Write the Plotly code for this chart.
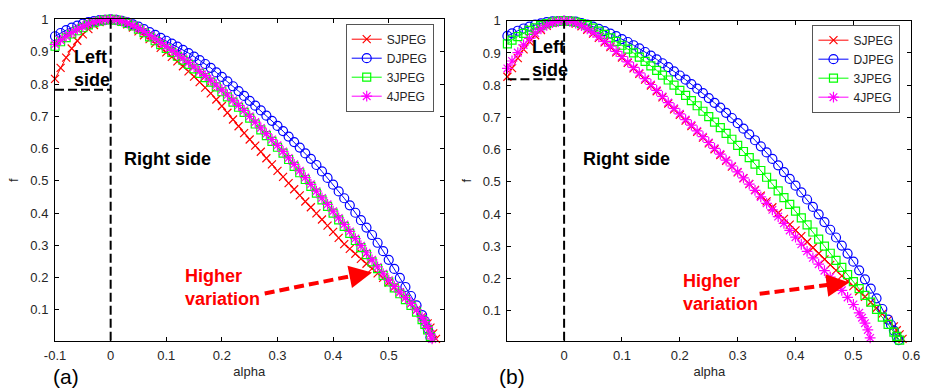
import plotly.graph_objects as go

# ---------------- data ----------------
series_names = ["SJPEG", "DJPEG", "3JPEG", "4JPEG"]
series_colors = ["#ff0000", "#0000ff", "#00ff00", "#ff00ff"]
series_symbols = ["x-thin-open", "circle-open", "square-open", "asterisk-open"]
marker_sizes = [8, 9, 8, 9]

# alpha sampling shared by most spectra (panel a: -0.10 .. 0.56)
alpha_grid_a = [-0.10, -0.09, -0.08, -0.07, -0.06, -0.05, -0.04, -0.03, -0.02, -0.01,
                0.00,
                0.01, 0.02, 0.03, 0.04, 0.05, 0.06, 0.07, 0.08, 0.09, 0.10,
                0.11, 0.12, 0.13, 0.14, 0.15, 0.16, 0.17, 0.18, 0.19, 0.20,
                0.21, 0.22, 0.23, 0.24, 0.25, 0.26, 0.27, 0.28, 0.29, 0.30,
                0.31, 0.32, 0.33, 0.34, 0.35, 0.36, 0.37, 0.38, 0.39, 0.40,
                0.41, 0.42, 0.43, 0.44, 0.45, 0.46, 0.47, 0.48, 0.49, 0.50,
                0.51, 0.52, 0.53, 0.54, 0.55, 0.56]
# panel b: -0.098 .. 0.56
alpha_grid_b = [-0.098, -0.09, -0.08, -0.07, -0.06, -0.05, -0.04, -0.03, -0.02, -0.01,
                0.00,
                0.01, 0.02, 0.03, 0.04, 0.05, 0.06, 0.07, 0.08, 0.09, 0.10,
                0.11, 0.12, 0.13, 0.14, 0.15, 0.16, 0.17, 0.18, 0.19, 0.20,
                0.21, 0.22, 0.23, 0.24, 0.25, 0.26, 0.27, 0.28, 0.29, 0.30,
                0.31, 0.32, 0.33, 0.34, 0.35, 0.36, 0.37, 0.38, 0.39, 0.40,
                0.41, 0.42, 0.43, 0.44, 0.45, 0.46, 0.47, 0.48, 0.49, 0.50,
                0.51, 0.52, 0.53, 0.54, 0.55, 0.56]

# ---- panel (a) ----
alpha_a_sjpeg = alpha_grid_a + [0.57, 0.575, 0.58, 0.585]
f_a_sjpeg = [0.816, 0.850, 0.882, 0.910, 0.934, 0.954, 0.970, 0.983, 0.992, 0.998,
             1.000,
             0.998, 0.993, 0.985, 0.975, 0.963, 0.951, 0.939, 0.926, 0.912, 0.898,
             0.884, 0.870, 0.855, 0.839, 0.823, 0.806, 0.789, 0.771, 0.752, 0.732,
             0.711, 0.690, 0.669, 0.648, 0.628, 0.609, 0.590, 0.570, 0.551, 0.531,
             0.512, 0.493, 0.474, 0.455, 0.436, 0.418, 0.399, 0.380, 0.361, 0.342,
             0.323, 0.304, 0.289, 0.274, 0.258, 0.243, 0.228, 0.213, 0.199, 0.185,
             0.171, 0.155, 0.138, 0.120, 0.100, 0.079,
             0.058, 0.045, 0.027, 0.010]

alpha_a_djpeg = alpha_grid_a + [0.565, 0.57, 0.575]
f_a_djpeg = [0.948, 0.958, 0.967, 0.975, 0.981, 0.987, 0.992, 0.995, 0.998, 0.999,
             1.000,
             0.999, 0.996, 0.991, 0.985, 0.978, 0.970, 0.961, 0.952, 0.943, 0.934,
             0.925, 0.916, 0.906, 0.896, 0.885, 0.874, 0.862, 0.850, 0.836, 0.822,
             0.808, 0.793, 0.778, 0.763, 0.748, 0.733, 0.718, 0.702, 0.686, 0.670,
             0.654, 0.637, 0.620, 0.603, 0.585, 0.568, 0.549, 0.529, 0.509, 0.488,
             0.467, 0.446, 0.424, 0.401, 0.378, 0.355, 0.332, 0.308, 0.282, 0.255,
             0.227, 0.199, 0.171, 0.143, 0.114, 0.084,
             0.065, 0.042, 0.015]

alpha_a_3jpeg = alpha_grid_a + [0.565, 0.57, 0.575]
f_a_3jpeg = [0.917, 0.931, 0.944, 0.955, 0.965, 0.975, 0.983, 0.990, 0.995, 0.999,
             1.000,
             0.998, 0.994, 0.988, 0.980, 0.970, 0.959, 0.946, 0.934, 0.922, 0.910,
             0.898, 0.886, 0.874, 0.861, 0.847, 0.833, 0.820, 0.806, 0.791, 0.776,
             0.760, 0.744, 0.728, 0.712, 0.694, 0.676, 0.658, 0.640, 0.622, 0.604,
             0.586, 0.566, 0.545, 0.525, 0.504, 0.483, 0.462, 0.441, 0.421, 0.400,
             0.379, 0.359, 0.337, 0.315, 0.293, 0.271, 0.249, 0.228, 0.207, 0.187,
             0.168, 0.150, 0.132, 0.114, 0.093, 0.070,
             0.055, 0.038, 0.018]

alpha_a_4jpeg = alpha_grid_a + [0.565, 0.57, 0.575, 0.578]
f_a_4jpeg = [0.923, 0.936, 0.948, 0.959, 0.969, 0.978, 0.986, 0.992, 0.996, 0.999,
             1.000,
             0.999, 0.995, 0.989, 0.982, 0.973, 0.963, 0.951, 0.940, 0.928, 0.916,
             0.904, 0.892, 0.880, 0.867, 0.853, 0.839, 0.826, 0.812, 0.797, 0.782,
             0.766, 0.750, 0.734, 0.718, 0.700, 0.682, 0.664, 0.646, 0.628, 0.610,
             0.591, 0.571, 0.551, 0.531, 0.510, 0.489, 0.468, 0.447, 0.427, 0.406,
             0.385, 0.365, 0.343, 0.321, 0.299, 0.277, 0.255, 0.233, 0.212, 0.192,
             0.173, 0.155, 0.138, 0.120, 0.100, 0.077,
             0.063, 0.046, 0.025, 0.010]

# ---- panel (b) ----
alpha_b_sjpeg = alpha_grid_b + [0.57, 0.575, 0.58, 0.585]
f_b_sjpeg = [0.826, 0.853, 0.884, 0.911, 0.935, 0.955, 0.971, 0.984, 0.993, 0.998,
             1.000,
             0.997, 0.991, 0.983, 0.972, 0.960, 0.947, 0.933, 0.918, 0.902, 0.886,
             0.869, 0.852, 0.835, 0.817, 0.799, 0.781, 0.762, 0.743, 0.725, 0.708,
             0.690, 0.673, 0.655, 0.637, 0.619, 0.601, 0.583, 0.565, 0.547, 0.529,
             0.511, 0.493, 0.475, 0.457, 0.439, 0.421, 0.403, 0.385, 0.367, 0.349,
             0.331, 0.313, 0.295, 0.277, 0.259, 0.242, 0.225, 0.208, 0.192, 0.176,
             0.160, 0.143, 0.126, 0.108, 0.090, 0.071,
             0.051, 0.039, 0.026, 0.012]

alpha_b_djpeg = alpha_grid_b + [0.565, 0.57, 0.575, 0.578]
f_b_djpeg = [0.953, 0.961, 0.969, 0.976, 0.982, 0.988, 0.992, 0.996, 0.998, 0.999,
             1.000,
             0.999, 0.997, 0.993, 0.988, 0.982, 0.975, 0.968, 0.960, 0.952, 0.943,
             0.934, 0.924, 0.914, 0.903, 0.892, 0.880, 0.868, 0.856, 0.843, 0.830,
             0.817, 0.803, 0.789, 0.775, 0.760, 0.745, 0.730, 0.714, 0.698, 0.682,
             0.665, 0.647, 0.629, 0.610, 0.591, 0.571, 0.551, 0.530, 0.509, 0.488,
             0.467, 0.445, 0.422, 0.399, 0.375, 0.351, 0.327, 0.302, 0.277, 0.252,
             0.225, 0.197, 0.168, 0.138, 0.105, 0.072,
             0.056, 0.038, 0.018, 0.008]

alpha_b_3jpeg = alpha_grid_b + [0.57, 0.575, 0.58]
f_b_3jpeg = [0.928, 0.940, 0.951, 0.961, 0.970, 0.978, 0.985, 0.991, 0.996, 0.999,
             1.000,
             0.999, 0.996, 0.991, 0.985, 0.977, 0.968, 0.958, 0.947, 0.936, 0.924,
             0.912, 0.900, 0.887, 0.874, 0.860, 0.846, 0.831, 0.816, 0.800, 0.784,
             0.768, 0.752, 0.736, 0.719, 0.702, 0.685, 0.668, 0.650, 0.632, 0.613,
             0.594, 0.575, 0.555, 0.535, 0.514, 0.493, 0.472, 0.451, 0.430, 0.409,
             0.388, 0.366, 0.344, 0.322, 0.300, 0.278, 0.256, 0.234, 0.212, 0.190,
             0.168, 0.147, 0.126, 0.104, 0.080, 0.057,
             0.033, 0.020, 0.008]

alpha_b_4jpeg = [-0.098, -0.09, -0.08, -0.07, -0.06, -0.05, -0.04, -0.03, -0.02, -0.01,
                 0.00,
                 0.01, 0.02, 0.03, 0.04, 0.05, 0.06, 0.07, 0.08, 0.09, 0.10,
                 0.11, 0.12, 0.13, 0.14, 0.15, 0.16, 0.17, 0.18, 0.19, 0.20,
                 0.21, 0.22, 0.23, 0.24, 0.25, 0.26, 0.27, 0.28, 0.29, 0.30,
                 0.31, 0.32, 0.33, 0.34, 0.35, 0.36, 0.37, 0.38, 0.39, 0.40,
                 0.41, 0.42, 0.43, 0.44, 0.45, 0.46, 0.47, 0.48, 0.49, 0.50,
                 0.51, 0.515, 0.52, 0.525, 0.529]
f_b_4jpeg = [0.852, 0.875, 0.901, 0.925, 0.945, 0.962, 0.975, 0.986, 0.994, 0.998,
             1.000,
             0.998, 0.993, 0.985, 0.975, 0.963, 0.950, 0.936, 0.921, 0.905, 0.889,
             0.872, 0.855, 0.838, 0.820, 0.802, 0.784, 0.765, 0.746, 0.728, 0.711,
             0.693, 0.676, 0.658, 0.640, 0.622, 0.604, 0.586, 0.567, 0.549, 0.531,
             0.512, 0.493, 0.473, 0.453, 0.433, 0.413, 0.392, 0.371, 0.349, 0.328,
             0.306, 0.284, 0.264, 0.244, 0.224, 0.204, 0.184, 0.163, 0.141, 0.119,
             0.093, 0.078, 0.061, 0.040, 0.015]

panel_a = [(alpha_a_sjpeg, f_a_sjpeg), (alpha_a_djpeg, f_a_djpeg),
           (alpha_a_3jpeg, f_a_3jpeg), (alpha_a_4jpeg, f_a_4jpeg)]
panel_b = [(alpha_b_sjpeg, f_b_sjpeg), (alpha_b_djpeg, f_b_djpeg),
           (alpha_b_3jpeg, f_b_3jpeg), (alpha_b_4jpeg, f_b_4jpeg)]

# tick labels
x_ticks_a = [-0.1, 0, 0.1, 0.2, 0.3, 0.4, 0.5]
x_ticktext_a = ["-0.1", "0", "0.1", "0.2", "0.3", "0.4", "0.5"]
x_ticks_b = [0, 0.1, 0.2, 0.3, 0.4, 0.5, 0.6]
x_ticktext_b = ["0", "0.1", "0.2", "0.3", "0.4", "0.5", "0.6"]
y_ticks = [0.1, 0.2, 0.3, 0.4, 0.5, 0.6, 0.7, 0.8, 0.9, 1.0]
y_ticktext = ["0.1", "0.2", "0.3", "0.4", "0.5", "0.6", "0.7", "0.8", "0.9", "1"]

# guide levels (left-side boundary) for each panel
left_level_a = 0.782
left_level_b = 0.818

# ---------------- figure ----------------
W, H = 931, 388
FONT = "Liberation Sans, Arial, sans-serif"
TXT = "#262626"

fig = go.Figure()

for panel, xa, ya, leg in [(panel_a, "x", "y", "legend"), (panel_b, "x2", "y2", "legend2")]:
    for i, (ax_vals, f_vals) in enumerate(panel):
        fig.add_trace(go.Scatter(
            x=ax_vals, y=f_vals, name=series_names[i],
            mode="lines+markers", xaxis=xa, yaxis=ya, legend=leg,
            cliponaxis=False,
            line=dict(color=series_colors[i], width=1),
            marker=dict(symbol=series_symbols[i], size=marker_sizes[i],
                        color=series_colors[i],
                        line=dict(color=series_colors[i], width=1.2)),
        ))


def px_x(p):
    return p / W


def px_y(p):
    return 1 - p / H


axis_common = dict(
    showgrid=False, zeroline=False, showline=True, linecolor="black", linewidth=1,
    mirror="ticks", ticks="inside", ticklen=4, tickcolor="black",
    ticklabelstandoff=3,
    tickfont=dict(family=FONT, size=13, color=TXT),
)

fig.update_layout(
    width=W, height=H, autosize=False,
    margin=dict(l=0, r=0, t=0, b=0),
    paper_bgcolor="white", plot_bgcolor="white",
    font=dict(family=FONT, color=TXT),
    showlegend=True,
    xaxis=dict(axis_common, domain=[px_x(45), px_x(442)], anchor="y",
               range=[-0.1, 0.5985], tickvals=x_ticks_a, ticktext=x_ticktext_a,
               title=dict(text="alpha", font=dict(size=13, color=TXT), standoff=4)),
    yaxis=dict(axis_common, domain=[px_y(340), px_y(12.7)], anchor="x",
               range=[0.004, 1.0], tickvals=y_ticks, ticktext=y_ticktext,
               title=dict(text="f", font=dict(size=13, color=TXT), standoff=8)),
    xaxis2=dict(axis_common, domain=[px_x(507.3), px_x(920)], anchor="y2",
                range=[-0.098, 0.6], tickvals=x_ticks_b, ticktext=x_ticktext_b,
                title=dict(text="alpha", font=dict(size=13, color=TXT), standoff=4)),
    yaxis2=dict(axis_common, domain=[px_y(340), px_y(14)], anchor="x2",
                range=[0.006, 1.0], tickvals=y_ticks, ticktext=y_ticktext,
                title=dict(text="f", font=dict(size=13, color=TXT), standoff=8)),
    legend=dict(x=px_x(432), xanchor="right", y=px_y(17), yanchor="top",
                bgcolor="white", bordercolor="#555555", borderwidth=1,
                font=dict(family=FONT, size=12, color=TXT), itemwidth=30,
                tracegroupgap=0),
    legend2=dict(x=px_x(909), xanchor="right", y=px_y(18), yanchor="top",
                 bgcolor="white", bordercolor="#555555", borderwidth=1,
                 font=dict(family=FONT, size=12, color=TXT), itemwidth=30,
                 tracegroupgap=0),
)

dash_style = dict(color="black", width=2, dash="9px,4px")
# vertical split at alpha = 0 and left-side boundary
fig.add_shape(type="line", xref="x", yref="y", x0=0, x1=0, y0=0.004, y1=1.0, line=dash_style)
fig.add_shape(type="line", xref="x", yref="y", x0=-0.1, x1=0, y0=left_level_a, y1=left_level_a, line=dash_style)
fig.add_shape(type="line", xref="x2", yref="y2", x0=0, x1=0, y0=0.006, y1=1.0, line=dash_style)
fig.add_shape(type="line", xref="x2", yref="y2", x0=-0.098, x1=0, y0=left_level_b, y1=left_level_b, line=dash_style)

label_font = dict(family=FONT, size=18, color="black")
red_font = dict(family=FONT, size=18, color="#ff0000")

for xr, yr, left_pos, right_pos, hv_pos in [
    ("x", "y", (-0.069, 0.847), (0.021, 0.567), (0.1305, 0.168)),
    ("x2", "y2", (-0.059, 0.884), (0.029, 0.570), (0.2017, 0.157)),
]:
    fig.add_annotation(xref=xr, yref=yr, x=left_pos[0], y=left_pos[1], text="<b>Left<br>side</b>",
                       showarrow=False, xanchor="left", yanchor="middle", align="left",
                       font=label_font)
    fig.add_annotation(xref=xr, yref=yr, x=right_pos[0], y=right_pos[1], text="<b>Right side</b>",
                       showarrow=False, xanchor="left", yanchor="middle", font=label_font)
    fig.add_annotation(xref=xr, yref=yr, x=hv_pos[0], y=hv_pos[1], text="<b>Higher<br>variation</b>",
                       showarrow=False, xanchor="left", yanchor="middle", align="left",
                       font=red_font)

# dashed arrows pointing at the crossing region
arrows = [
    ("x", "y", (0.277, 0.151), (0.456, 0.213), (0.470, 0.216), (-14, 2.8)),
    ("x2", "y2", (0.338, 0.152), (0.479, 0.185), (0.493, 0.187), (-14, 1.8)),
]
for xr, yr, start, end, tip, off in arrows:
    fig.add_shape(type="line", xref=xr, yref=yr, x0=start[0], y0=start[1], x1=end[0], y1=end[1],
                  line=dict(color="#ff0000", width=4, dash="10px,5px"))
    fig.add_annotation(xref=xr, yref=yr, x=tip[0], y=tip[1], ax=off[0], ay=off[1], text="",
                       showarrow=True, arrowhead=2, arrowsize=1.3, arrowwidth=3.5,
                       arrowcolor="#ff0000")

# panel tags
fig.add_annotation(xref="paper", yref="paper", x=px_x(56), y=px_y(376), text="(a)",
                   showarrow=False, xanchor="center", yanchor="middle",
                   font=dict(family=FONT, size=21, color="black"))
fig.add_annotation(xref="paper", yref="paper", x=px_x(512), y=px_y(376), text="(b)",
                   showarrow=False, xanchor="center", yanchor="middle",
                   font=dict(family=FONT, size=21, color="black"))

fig.write_html("out.html")
